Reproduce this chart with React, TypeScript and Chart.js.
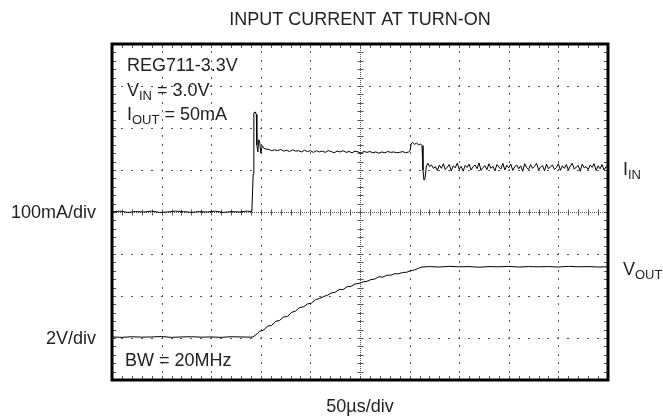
import React, { useEffect, useRef } from "react";
import { Chart, registerables } from "chart.js";

Chart.register(...registerables);

// ---- axis ranges (oscilloscope: 10 x 8 divisions) ----
const TIME_MIN = 0; // µs
const TIME_MAX = 500;
const TIME_DIV = 50; // 50µs/div
const CURRENT_MIN = -400; // mA
const CURRENT_MAX = 400;
const CURRENT_DIV = 100; // 100mA/div
const VOLT_MIN = -2; // V
const VOLT_MAX = 14; // 2V/div

// ---- text ----
const TITLE = "INPUT CURRENT AT TURN-ON";
const X_LABEL = "50µs/div";
const CURRENT_LABEL = "100mA/div";
const VOLT_LABEL = "2V/div";

// ---- I_IN trace (time µs, current mA) ----
const iinTime = [
  0, 8, 16, 24, 32, 40, 48, 56, 64, 72, 80, 88, 96, 104, 112, 120, 128, 136, 141,
  142.3, 143, 144.5, 145.5, 146, 147, 148, 149, 150, 151.5, 153, 155, 158, 161, 164, 167, 170,
  173, 176, 179, 182, 185, 188, 191, 194, 197, 200, 203, 206, 209, 212, 215, 218, 221, 224,
  227, 230, 233, 236, 239, 242, 245, 248, 251, 254, 257, 260, 263, 266, 269, 272, 275, 278,
  281, 284, 287, 290, 293, 296, 299, 300.5, 301.5, 303, 305, 307, 309, 311, 312.5, 313.5,
  314.5, 315.5, 317, 318.5, 320, 322, 324,
  326, 328, 330, 332, 334, 336, 338, 340, 342, 344,
  346, 348, 350, 352, 354, 356, 358, 360, 362, 364,
  366, 368, 370, 372, 374, 376, 378, 380, 382, 384,
  386, 388, 390, 392, 394, 396, 398, 400, 402, 404,
  406, 408, 410, 412, 414, 416, 418, 420, 422, 424,
  426, 428, 430, 432, 434, 436, 438, 440, 442, 444,
  446, 448, 450, 452, 454, 456, 458, 460, 462, 464,
  466, 468, 470, 472, 474, 476, 478, 480, 482, 484,
  486, 488, 490, 492, 494, 496, 498, 500,
];
const iinValue = [
  0, 2, -1, 1, 0, 2, -1, 0, 2, 1, -1, 1, 0, 2, -1, 1, 0, 2, 1,
  90, 236, 238, 232, 160, 143, 172, 165, 140, 158, 152, 150, 149, 146, 148, 146, 149,
  145, 147, 144, 148, 145, 146, 143, 147, 144, 146, 142, 146, 143, 145, 142, 146, 144, 141,
  145, 143, 146, 142, 144, 141, 145, 143, 140, 144, 142, 144, 141, 143, 140, 143, 141, 144,
  142, 143, 141, 142, 144, 141, 143, 146, 162, 166, 161, 164, 160, 162, 158, 100,
  76, 80, 110, 116, 108, 112, 104,
  108, 99, 112, 104, 115, 101, 107, 113, 98, 110,
  105, 116, 102, 109, 97, 111, 106, 114, 100, 108,
  112, 103, 117, 99, 106, 110, 101, 115, 104, 109,
  98, 113, 107, 102, 116, 100, 111, 105, 114, 99,
  108, 112, 103, 110, 97, 115, 106, 101, 113, 104,
  109, 116, 100, 107, 111, 98, 114, 103, 108, 112,
  101, 106, 115, 99, 110, 104, 113, 100, 109, 116,
  102, 107, 111, 97, 114, 105, 108, 101, 112, 106,
  115, 99, 110, 103, 113, 100, 108, 105,
];

// ---- V_OUT trace (time µs, voltage V) ----
const voutTime = [
  0, 10, 20, 30, 40, 50, 60, 70, 80, 90, 100, 110, 120, 130, 140, 142,
  145, 149, 153, 157, 161, 165, 169, 173, 177, 181, 185, 189, 193, 197, 201, 205, 209, 213,
  217, 221, 225, 229, 233, 237, 241, 245, 249, 253, 257, 261, 265, 269, 273, 277, 281, 285,
  289, 293, 297, 301, 305, 309, 312.5,
  320, 330, 340, 350, 360, 370, 380, 390, 400, 410, 420, 430, 440, 450, 460, 470, 480, 490, 500,
];
const voutValue = [
  0.05, 0.03, 0.06, 0.04, 0.05, 0.07, 0.03, 0.05, 0.06, 0.04, 0.05, 0.03, 0.06, 0.05, 0.04, 0.05,
  0.15, 0.32, 0.38, 0.57, 0.6, 0.79, 0.84, 1.0, 1.03, 1.22, 1.28, 1.45, 1.48, 1.62, 1.66, 1.82, 1.88, 1.97,
  2.03, 2.14, 2.18, 2.31, 2.31, 2.44, 2.46, 2.57, 2.6, 2.67, 2.7, 2.78, 2.81, 2.92, 2.9, 2.99, 2.99, 3.06,
  3.06, 3.12, 3.13, 3.21, 3.24, 3.32, 3.38,
  3.4, 3.38, 3.41, 3.39, 3.4, 3.37, 3.4, 3.39, 3.41, 3.38, 3.4, 3.39, 3.4, 3.38, 3.41, 3.39, 3.4, 3.38, 3.39,
];

const FONT = "'Liberation Sans', Arial, Helvetica, sans-serif";
const TEXT_COLOR = "#222";
const GRID_COLOR = "#555";

function drawSub(ctx: CanvasRenderingContext2D, x: number, y: number, main: string, sub: string, rest: string, size: number) {
  ctx.font = `${size}px ${FONT}`;
  ctx.fillText(main, x, y);
  let cx = x + ctx.measureText(main).width;
  const subSize = Math.round(size * 0.72);
  ctx.font = `${subSize}px ${FONT}`;
  ctx.fillText(sub, cx, y + size * 0.22);
  cx += ctx.measureText(sub).width;
  if (rest) {
    ctx.font = `${size}px ${FONT}`;
    ctx.fillText(rest, cx, y);
  }
}

const graticule = {
  id: "graticule",
  beforeDatasetsDraw(chart: any) {
    const { ctx, chartArea: a, scales } = chart;
    const xs = scales.x;
    const ys = scales.yI;
    const xMinor = TIME_DIV / 5;
    const yMinor = CURRENT_DIV / 5;
    const xCenter = (TIME_MIN + TIME_MAX) / 2;
    const yCenter = (CURRENT_MIN + CURRENT_MAX) / 2;
    ctx.save();
    ctx.fillStyle = GRID_COLOR;
    ctx.strokeStyle = GRID_COLOR;
    // vertical grid lines
    for (let t = TIME_MIN + TIME_DIV; t < TIME_MAX - 1e-6; t += TIME_DIV) {
      const px = Math.round(xs.getPixelForValue(t));
      if (Math.abs(t - xCenter) < 1e-6) continue;
      for (let m = CURRENT_MIN + yMinor; m < CURRENT_MAX - 1e-6; m += yMinor) {
        const py = Math.round(ys.getPixelForValue(m));
        ctx.fillRect(px, py - 1, 1, 2);
      }
    }
    // horizontal grid lines
    for (let v = CURRENT_MIN + CURRENT_DIV; v < CURRENT_MAX - 1e-6; v += CURRENT_DIV) {
      const py = Math.round(ys.getPixelForValue(v));
      if (Math.abs(v - yCenter) < 1e-6) continue;
      for (let t = TIME_MIN + xMinor; t < TIME_MAX - 1e-6; t += xMinor) {
        const px = Math.round(xs.getPixelForValue(t));
        ctx.fillRect(px - 1, py, 2, 1);
      }
    }
    // center axes: fine dotted line with minor ticks
    const cx = Math.round(xs.getPixelForValue(xCenter)) + 0.5;
    const cy = Math.round(ys.getPixelForValue(yCenter)) + 0.5;
    ctx.lineWidth = 1;
    ctx.setLineDash([1, 1]);
    ctx.beginPath();
    ctx.moveTo(cx, a.top);
    ctx.lineTo(cx, a.bottom);
    ctx.moveTo(a.left, cy);
    ctx.lineTo(a.right, cy);
    ctx.stroke();
    ctx.setLineDash([]);
    ctx.beginPath();
    for (let m = CURRENT_MIN + yMinor; m < CURRENT_MAX - 1e-6; m += yMinor) {
      const py = Math.round(ys.getPixelForValue(m)) + 0.5;
      ctx.moveTo(cx - 3, py);
      ctx.lineTo(cx + 3, py);
      ctx.moveTo(a.left, py);
      ctx.lineTo(a.left + 4, py);
      ctx.moveTo(a.right - 4, py);
      ctx.lineTo(a.right, py);
    }
    for (let t = TIME_MIN + xMinor; t < TIME_MAX - 1e-6; t += xMinor) {
      const px = Math.round(xs.getPixelForValue(t)) + 0.5;
      ctx.moveTo(px, cy - 3);
      ctx.lineTo(px, cy + 3);
      ctx.moveTo(px, a.top);
      ctx.lineTo(px, a.top + 4);
      ctx.moveTo(px, a.bottom - 4);
      ctx.lineTo(px, a.bottom);
    }
    ctx.stroke();
    ctx.restore();
  },
  afterDraw(chart: any) {
    const { ctx, chartArea: a, scales } = chart;
    const ys = scales.yI;
    const yv = scales.yV;
    ctx.save();
    // frame
    ctx.strokeStyle = "#000";
    ctx.lineWidth = 3;
    ctx.strokeRect(a.left, a.top, a.right - a.left, a.bottom - a.top);
    ctx.fillStyle = TEXT_COLOR;
    ctx.textBaseline = "alphabetic";
    // title and x label
    ctx.textAlign = "center";
    ctx.font = `18px ${FONT}`;
    const mid = (a.left + a.right) / 2;
    ctx.fillText(TITLE, mid, 25);
    ctx.fillText(X_LABEL, mid, 412);
    // left labels
    ctx.textAlign = "right";
    ctx.fillText(CURRENT_LABEL, a.left - 16, ys.getPixelForValue(0) + 6);
    ctx.fillText(VOLT_LABEL, a.left - 16, yv.getPixelForValue(0) + 6);
    // trace labels
    ctx.textAlign = "left";
    drawSub(ctx, a.right + 15, 175, "I", "IN", "", 18);
    drawSub(ctx, a.right + 15, 275, "V", "OUT", "", 18);
    // annotations
    ctx.font = `18px ${FONT}`;
    ctx.fillText("REG711-3.3V", a.left + 15, 71);
    drawSub(ctx, a.left + 15, 96, "V", "IN", " = 3.0V", 18);
    drawSub(ctx, a.left + 15, 120, "I", "OUT", " = 50mA", 18);
    ctx.font = `18px ${FONT}`;
    ctx.fillText("BW = 20MHz", a.left + 13, 366);
    ctx.restore();
  },
};

export default function App() {
  const ref = useRef<HTMLCanvasElement | null>(null);
  useEffect(() => {
    if (!ref.current) return;
    const chart = new Chart(ref.current, {
      type: "line",
      data: {
        datasets: [
          {
            label: "I_IN",
            data: iinTime.map((t, i) => ({ x: t, y: iinValue[i] })),
            xAxisID: "x",
            yAxisID: "yI",
            borderColor: "#000",
            borderWidth: 1,
            pointRadius: 0,
            tension: 0,
          },
          {
            label: "V_OUT",
            data: voutTime.map((t, i) => ({ x: t, y: voutValue[i] })),
            xAxisID: "x",
            yAxisID: "yV",
            borderColor: "#000",
            borderWidth: 1,
            pointRadius: 0,
            tension: 0,
          },
        ],
      },
      options: {
        animation: false,
        responsive: false,
        events: [],
        layout: { padding: { left: 112, right: 55, top: 44, bottom: 36 } },
        plugins: { legend: { display: false }, tooltip: { enabled: false }, title: { display: false } },
        scales: {
          x: { type: "linear", min: TIME_MIN, max: TIME_MAX, display: false },
          yI: { type: "linear", min: CURRENT_MIN, max: CURRENT_MAX, display: false },
          yV: { type: "linear", min: VOLT_MIN, max: VOLT_MAX, display: false },
        },
      },
      plugins: [graticule],
    });
    return () => chart.destroy();
  }, []);
  return (
    <div style={{ position: "absolute", left: 0, top: 0, width: 663, height: 416, background: "#fff" }}>
      <canvas ref={ref} width={663} height={416} style={{ display: "block" }} />
    </div>
  );
}
